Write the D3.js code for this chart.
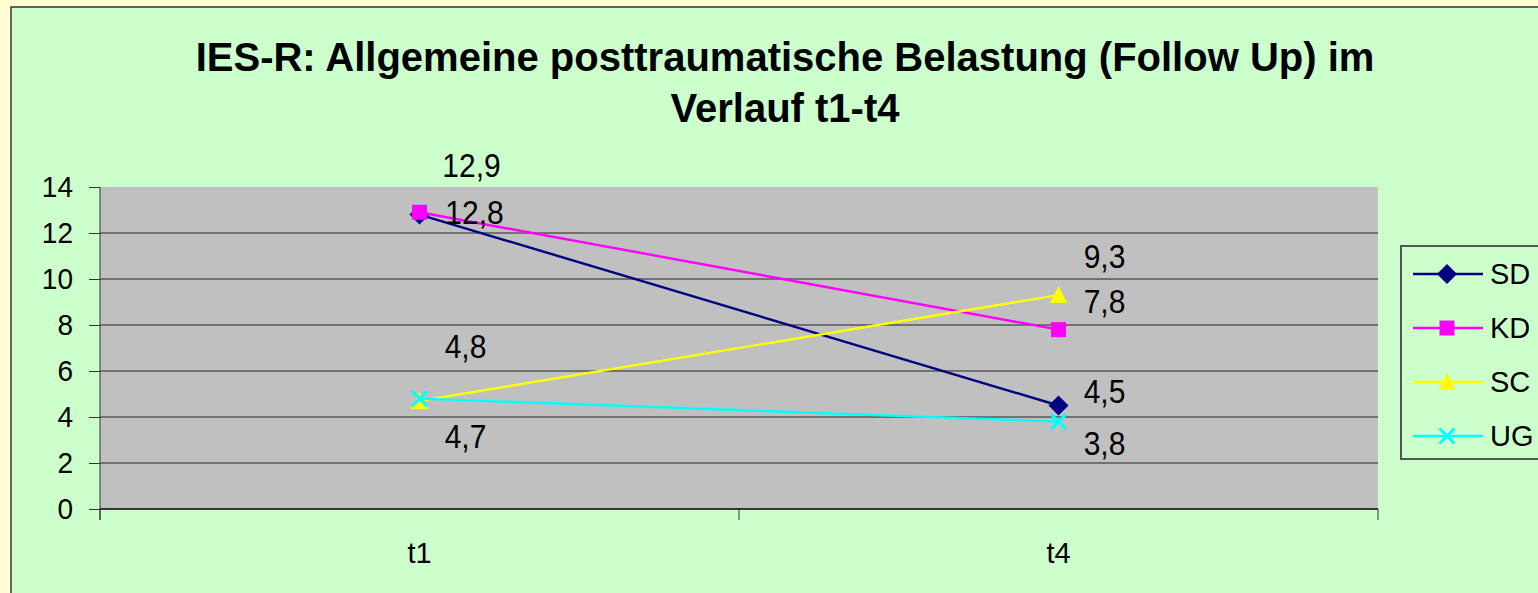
<!DOCTYPE html>
<html>
<head>
<meta charset="utf-8">
<script src="https://cdn.jsdelivr.net/npm/d3@7"></script>
<style>
  html, body { margin: 0; padding: 0; background: #FFFFD2; overflow: hidden; }
  text { font-family: "Liberation Sans", Arial, sans-serif; fill: #000; }
</style>
</head>
<body>
<svg id="chart"></svg>
<script>
var categories = ["t1", "t4"];
var seriesNames = ["SD", "KD", "SC", "UG"];
var sdValues = [12.8, 4.5];
var kdValues = [12.9, 7.8];
var scValues = [4.7, 9.3];
var ugValues = [4.8, 3.8];
var yTicks = [0, 2, 4, 6, 8, 10, 12, 14];
var titleLines = ["IES-R: Allgemeine posttraumatische Belastung (Follow Up) im", "Verlauf t1-t4"];

// styling per series, kept apart from values
var colors = ["#000080", "#FF00FF", "#FFFF00", "#00FFFF"];
var markers = ["diamond", "square", "triangle", "cross"];
// data label offsets (dx from point, baseline dy from point), per series per category
var labelOffsets = [
  [[55, 9], [46, -3]],
  [[52, -35], [46, -17]],
  [[46, 47], [46, -27]],
  [[46, -41], [46, 33]]
];

var series = seriesNames.map(function(name, i) {
  return { name: name, values: [sdValues, kdValues, scValues, ugValues][i], color: colors[i], marker: markers[i], offsets: labelOffsets[i] };
});

var width = 1538, height = 593;
var svg = d3.select("#chart").attr("width", width).attr("height", height);

// chart area
svg.append("rect")
  .attr("x", 11).attr("y", 7)
  .attr("width", width + 20).attr("height", height + 20)
  .attr("fill", "#CCFFCC").attr("stroke", "#333").attr("stroke-width", 1.5);

// title
svg.selectAll("text.title")
  .data(titleLines)
  .enter().append("text")
  .attr("class", "title")
  .attr("x", 785)
  .attr("y", function(d, i) { return 71 + i * 51; })
  .attr("text-anchor", "middle")
  .style("font-size", "40px")
  .style("font-weight", "bold")
  .text(function(d) { return d; });

var plot = { left: 100, top: 187, right: 1378, bottom: 509 };

var x = d3.scaleBand().domain(categories).range([plot.left, plot.right]);
var y = d3.scaleLinear().domain([0, 14]).range([plot.bottom, plot.top]);

svg.append("rect")
  .attr("x", plot.left).attr("y", plot.top)
  .attr("width", plot.right - plot.left).attr("height", plot.bottom - plot.top)
  .attr("fill", "#C0C0C0");

// gridlines
svg.append("g")
  .selectAll("line")
  .data(yTicks.filter(function(t) { return t > 0 && t < 14; }))
  .enter().append("line")
  .attr("x1", plot.left).attr("x2", plot.right)
  .attr("y1", function(d) { return y(d); }).attr("y2", function(d) { return y(d); })
  .attr("stroke", "#222").attr("stroke-width", 1);

// y axis
var yAxis = svg.append("g")
  .attr("transform", "translate(" + plot.left + ",0)")
  .call(d3.axisLeft(y).tickValues(yTicks).tickSize(11).tickPadding(16).tickFormat(d3.format("d")));
yAxis.select(".domain").attr("stroke", "#333").attr("d", "M0," + plot.top + "V" + (plot.bottom + 11));
yAxis.selectAll(".tick line").attr("stroke", "#333");
yAxis.selectAll("text").style("font-size", "28px").attr("dy", "0.36em").attr("font-family", null)
  .attr("transform", "scale(1,1.08)");
yAxis.selectAll(".tick").each(function() {
  // keep the stretched label centred on its tick
  d3.select(this).select("text").attr("y", -1);
});

// x axis
var xAxis = svg.append("g")
  .attr("transform", "translate(0," + plot.bottom + ")")
  .call(d3.axisBottom(x).tickSize(0).tickPadding(33));
xAxis.select(".domain").attr("stroke", "#000").attr("stroke-width", 1.5).attr("d", "M" + plot.left + ",0H" + plot.right);
xAxis.selectAll("text").style("font-size", "29px").attr("font-family", null);
svg.append("g").selectAll("line")
  .data(categories.concat(["end"]))
  .enter().append("line")
  .attr("x1", function(d, i) { return plot.left + i * x.bandwidth(); })
  .attr("x2", function(d, i) { return plot.left + i * x.bandwidth(); })
  .attr("y1", plot.bottom).attr("y2", plot.bottom + 11)
  .attr("stroke", "#333");

function cx(i) { return x(categories[i]) + x.bandwidth() / 2; }

function drawMarker(g, type, color, px, py) {
  if (type === "diamond") {
    g.append("path").attr("d", d3.symbol().type(d3.symbolDiamond2).size(150)())
      .attr("transform", "translate(" + px + "," + py + ") scale(1.3)")
      .attr("fill", color);
  } else if (type === "square") {
    g.append("rect").attr("x", px - 7.5).attr("y", py - 7.5).attr("width", 15).attr("height", 15).attr("fill", color);
  } else if (type === "triangle") {
    g.append("path").attr("d", "M" + px + "," + (py - 9) + "L" + (px + 8.5) + "," + (py + 8) + "L" + (px - 8.5) + "," + (py + 8) + "Z")
      .attr("fill", color);
  } else {
    g.append("path").attr("d", "M" + (px - 7.5) + "," + (py - 7.5) + "L" + (px + 7.5) + "," + (py + 7.5) + "M" + (px + 7.5) + "," + (py - 7.5) + "L" + (px - 7.5) + "," + (py + 7.5))
      .attr("stroke", color).attr("stroke-width", 3);
  }
}

var line = d3.line()
  .x(function(d, i) { return cx(i); })
  .y(function(d) { return y(d); });

series.forEach(function(s) {
  var g = svg.append("g");
  g.append("path").attr("d", line(s.values)).attr("fill", "none").attr("stroke", s.color).attr("stroke-width", 2.4);
  s.values.forEach(function(v, i) {
    drawMarker(g, s.marker, s.color, cx(i), y(v));
  });
});

// data labels drawn last, slightly stretched vertically like the original
series.forEach(function(s) {
  svg.append("g").selectAll("text")
    .data(s.values)
    .enter().append("text")
    .attr("transform", function(d, i) {
      return "translate(" + (cx(i) + s.offsets[i][0]) + "," + (y(d) + s.offsets[i][1]) + ") scale(1,1.12)";
    })
    .attr("text-anchor", "middle")
    .style("font-size", "30px")
    .text(function(d) { return String(d).replace(".", ","); });
});

// legend
var legend = svg.append("g");
legend.append("rect")
  .attr("x", 1401).attr("y", 246).attr("width", 160).attr("height", 213)
  .attr("fill", "#CCFFCC").attr("stroke", "#555").attr("stroke-width", 2);
series.forEach(function(s, i) {
  var ly = 274 + i * 54;
  legend.append("line").attr("x1", 1413).attr("x2", 1483).attr("y1", ly).attr("y2", ly)
    .attr("stroke", s.color).attr("stroke-width", 2.4);
  drawMarker(legend, s.marker, s.color, 1447, ly);
  legend.append("text").attr("x", 1490).attr("y", ly + 10)
    .style("font-size", "29px").text(s.name);
});
</script>
</body>
</html>
